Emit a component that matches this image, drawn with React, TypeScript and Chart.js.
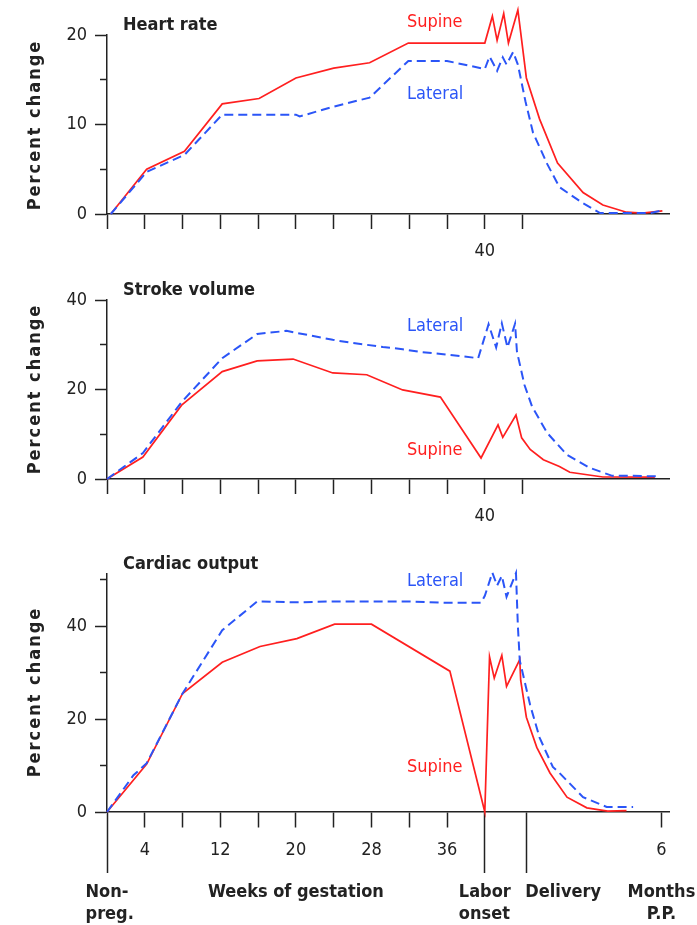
import React, { useEffect, useRef } from 'react';
import { Chart, registerables } from 'chart.js';

Chart.register(...registerables);

const FONT = '"DejaVu Sans Condensed", "DejaVu Sans", sans-serif';
const RED = '#ff1f1f';
const BLUE = '#2b55f7';
const AXIS = '#222222';
const TEXT = '#222222';

// x axis: weeks of gestation; 40 = labor onset, 44 = delivery, 58.7 = 6 months post partum
const X_MIN = 0;
const X_MAX = 59.5;
const gestTicks = [0, 4, 8, 12, 16, 20, 24, 28, 32, 36, 40, 44];
const bottomTicks = [0, 4, 8, 12, 16, 20, 24, 28, 32, 36, 40, 44.4, 58.7];
const topTickLabels: Record<string, string> = { '40': '40' };
const bottomTickLabels: Record<string, string> = { '4': '4', '12': '12', '20': '20', '28': '28', '36': '36', '58.7': '6' };
const longTicks = [0, 40, 44.4];

// Heart rate
const hrSupineX = [0.4, 4.2, 8.2, 12.2, 16.1, 20.0, 24.0, 27.8, 31.9, 40.0, 40.8, 41.3, 42.0, 42.5, 43.5, 44.4, 45.8, 47.7, 50.4, 52.5, 55.0, 56.7, 58.8];
const hrSupineY = [0, 5.0, 7.0, 12.3, 12.9, 15.2, 16.3, 16.9, 19.1, 19.1, 22.1, 19.4, 22.4, 19.1, 22.8, 15.2, 10.6, 5.7, 2.4, 1.0, 0.2, 0.1, 0.35];
const hrLateralX = [0.4, 4.2, 8.2, 12.2, 20.0, 20.4, 24.0, 27.8, 31.9, 36.0, 40.0, 40.5, 41.3, 41.9, 42.3, 43.0, 43.5, 44.3, 45.1, 46.6, 47.9, 50.4, 52.2, 57.5, 58.8];
const hrLateralY = [0, 4.7, 6.6, 11.1, 11.1, 10.9, 12.0, 13.0, 17.1, 17.1, 16.2, 17.6, 16.0, 17.5, 16.7, 18.1, 16.7, 12.6, 9.1, 5.6, 3.0, 1.2, 0.1, 0.1, 0.4];

// Stroke volume
const svSupineX = [0, 3.8, 7.9, 12.2, 15.9, 19.7, 23.9, 27.5, 31.3, 35.3, 39.6, 41.4, 41.9, 43.3, 43.9, 44.8, 46.2, 47.9, 49.0, 52.5, 58.0];
const svSupineY = [0, 4.9, 16.5, 24.0, 26.4, 26.8, 23.7, 23.3, 19.9, 18.3, 4.7, 12.1, 9.3, 14.3, 9.2, 6.6, 4.3, 2.8, 1.5, 0.45, 0.4];
const svLateralX = [0, 3.8, 7.9, 12.2, 15.9, 19.0, 23.9, 25.7, 29.2, 31.3, 33.1, 35.6, 39.3, 40.4, 41.2, 41.8, 42.4, 43.2, 43.4, 44.2, 45.0, 46.6, 48.7, 51.1, 53.5, 55.7, 58.2];
const svLateralY = [0, 5.8, 17.2, 27.0, 32.4, 33.1, 31.1, 30.5, 29.5, 29.0, 28.4, 27.9, 27.0, 34.6, 29.4, 34.8, 29.4, 34.7, 28.5, 21.0, 16.2, 10.3, 5.4, 2.5, 0.7, 0.7, 0.6];

// Cardiac output
const coSupineX = [0, 4.2, 8.0, 12.2, 16.2, 20.1, 24.1, 28.0, 36.3, 40.0, 40.5, 41.0, 41.8, 42.3, 43.7, 43.8, 44.4, 45.5, 46.9, 48.7, 50.8, 53.0, 55.0];
const coSupineY = [0, 10.3, 25.5, 32.2, 35.6, 37.3, 40.4, 40.4, 30.3, 0, 33.4, 28.8, 33.7, 27.0, 32.8, 28.3, 20.4, 13.9, 8.4, 3.2, 0.9, 0.2, 0.3];
const coLateralX = [0, 2.8, 4.2, 8.0, 12.2, 15.9, 20.0, 24.0, 28.0, 32.0, 36.0, 39.6, 40.0, 40.8, 41.3, 41.8, 42.3, 43.3, 43.5, 43.7, 44.8, 45.8, 47.2, 47.9, 50.4, 52.9, 55.7];
const coLateralY = [0, 7.9, 10.5, 25.5, 39.1, 45.3, 45.1, 45.3, 45.3, 45.3, 45.0, 45.0, 46.5, 51.5, 48.7, 50.8, 46.3, 51.4, 40.0, 32.6, 23.0, 16.0, 9.7, 8.4, 3.2, 1.1, 1.1];

type Spec = {
  top: number;
  height: number;
  areaTop: number;
  areaBottom: number;
  yMax: number;
  yMajor: number[];
  yMinor: number[];
  title: string;
  titleY: number;
  supineLabelY: number;
  lateralLabelY: number;
  yTitleCenter: number;
  sx: number[];
  sy: number[];
  lx: number[];
  ly: number[];
  bottom: boolean;
};

const panels: Spec[] = [
  {
    top: 0, height: 262, areaTop: 35, areaBottom: 214, yMax: 20, yMajor: [0, 10, 20], yMinor: [5, 15],
    title: 'Heart rate', titleY: 30, supineLabelY: 27, lateralLabelY: 99, yTitleCenter: 125,
    sx: hrSupineX, sy: hrSupineY, lx: hrLateralX, ly: hrLateralY, bottom: false,
  },
  {
    top: 262, height: 268, areaTop: 300, areaBottom: 479, yMax: 40, yMajor: [0, 20, 40], yMinor: [10, 30],
    title: 'Stroke volume', titleY: 295, supineLabelY: 455, lateralLabelY: 331, yTitleCenter: 389,
    sx: svSupineX, sy: svSupineY, lx: svLateralX, ly: svLateralY, bottom: false,
  },
  {
    top: 530, height: 395, areaTop: 574, areaBottom: 812, yMax: 51.2, yMajor: [0, 20, 40], yMinor: [10, 30, 50],
    title: 'Cardiac output', titleY: 569, supineLabelY: 772, lateralLabelY: 586, yTitleCenter: 692,
    sx: coSupineX, sy: coSupineY, lx: coLateralX, ly: coLateralY, bottom: true,
  },
];

function toPoints(xs: number[], ys: number[]) {
  return xs.map((x, i) => ({ x, y: ys[i] }));
}

function buildConfig(spec: Spec): any {
  const off = spec.top;
  const yTicks = [...spec.yMajor, ...spec.yMinor].sort((a, b) => a - b);
  const xTicks = spec.bottom ? bottomTicks : gestTicks;
  const xLabels = spec.bottom ? bottomTickLabels : topTickLabels;
  const xTickLen = spec.bottom ? 61 : 15;

  const textPlugin = {
    id: 'panelText',
    afterDraw(chart: any) {
      const ctx = chart.ctx;
      const xs = chart.scales.x;
      ctx.save();
      ctx.textAlign = 'left';
      ctx.textBaseline = 'alphabetic';
      ctx.font = `bold 18px ${FONT}`;
      ctx.fillStyle = TEXT;
      ctx.fillText(spec.title, 123, spec.titleY - off);
      ctx.font = `18px ${FONT}`;
      ctx.fillStyle = RED;
      ctx.fillText('Supine', 407, spec.supineLabelY - off);
      ctx.fillStyle = BLUE;
      ctx.fillText('Lateral', 407, spec.lateralLabelY - off);

      ctx.save();
      ctx.translate(40, spec.yTitleCenter - off);
      ctx.rotate(-Math.PI / 2);
      ctx.font = `bold 18px ${FONT}`;
      (ctx as any).letterSpacing = '2px';
      ctx.textAlign = 'center';
      ctx.fillStyle = TEXT;
      ctx.fillText('Percent change', 0, 0);
      ctx.restore();

      if (spec.bottom) {
        ctx.font = `bold 18px ${FONT}`;
        ctx.fillStyle = TEXT;
        const l1 = 897 - off;
        const l2 = 919 - off;
        const x0 = xs.getPixelForValue(0);
        const x40 = xs.getPixelForValue(40);
        const x44 = xs.getPixelForValue(44.4);
        const x6 = xs.getPixelForValue(58.7);
        const x20 = xs.getPixelForValue(20);
        const wNon = ctx.measureText('Non-').width;
        ctx.textAlign = 'left';
        ctx.fillText('Non-', x0 - wNon / 2, l1);
        ctx.fillText('preg.', x0 - wNon / 2, l2);
        ctx.textAlign = 'center';
        ctx.fillText('Weeks of gestation', x20, l1);
        const wLab = ctx.measureText('Labor').width;
        ctx.textAlign = 'left';
        ctx.fillText('Labor', x40 - wLab / 2, l1);
        ctx.fillText('onset', x40 - wLab / 2, l2);
        ctx.fillText('Delivery', x44 - 1, l1);
        ctx.textAlign = 'center';
        ctx.fillText('Months', x6, l1);
        ctx.fillText('P.P.', x6, l2);
      }
      ctx.restore();
    },
  };

  return {
    type: 'line',
    data: {
      datasets: [
        {
          label: 'Lateral',
          data: toPoints(spec.lx, spec.ly),
          borderColor: BLUE,
          borderWidth: 2,
          borderDash: [9, 5],
          pointRadius: 0,
          tension: 0,
          fill: false,
          clip: false,
        },
        {
          label: 'Supine',
          data: toPoints(spec.sx, spec.sy),
          borderColor: RED,
          borderWidth: 1.7,
          pointRadius: 0,
          tension: 0,
          fill: false,
          clip: false,
        },
      ],
    },
    options: {
      responsive: false,
      animation: false,
      devicePixelRatio: 1,
      events: [],
      layout: { padding: { left: 0, right: 28, top: spec.areaTop - off, bottom: 0 } },
      plugins: { legend: { display: false }, tooltip: { enabled: false }, title: { display: false } },
      scales: {
        x: {
          type: 'linear',
          min: X_MIN,
          max: X_MAX,
          afterBuildTicks: (scale: any) => {
            scale.ticks = xTicks.map((v) => ({ value: v }));
          },
          afterFit: (scale: any) => {
            scale.height = spec.height - (spec.areaBottom - off);
          },
          border: { display: true, color: AXIS, width: 1.5 },
          grid: {
            drawOnChartArea: false,
            drawTicks: true,
            tickLength: xTickLen,
            tickColor: AXIS,
            tickWidth: 1.5,
            tickBorderDash: (c: any) => (spec.bottom && !longTicks.includes(c.tick?.value) ? [15, 200] : []),
            tickBorderDashOffset: 0,
          },
          ticks: {
            autoSkip: false,
            maxRotation: 0,
            minRotation: 0,
            padding: spec.bottom ? -33 : 12,
            color: TEXT,
            font: { family: FONT, size: 18 },
            callback: (v: any) => xLabels[String(v)] ?? '',
          },
        },
        y: {
          type: 'linear',
          min: 0,
          max: spec.yMax,
          afterBuildTicks: (scale: any) => {
            scale.ticks = yTicks.map((v) => ({ value: v }));
          },
          afterFit: (scale: any) => {
            scale.width = 107;
          },
          border: { display: true, color: AXIS, width: 1.5 },
          grid: {
            drawOnChartArea: false,
            drawTicks: true,
            tickLength: 12,
            tickColor: AXIS,
            tickWidth: 1.5,
            tickBorderDash: (c: any) => (spec.yMinor.includes(c.tick?.value) ? [7, 5] : []),
            tickBorderDashOffset: (c: any) => (spec.yMinor.includes(c.tick?.value) ? 7 : 0),
          },
          ticks: {
            padding: 8,
            color: TEXT,
            font: { family: FONT, size: 18 },
            callback: (v: any) => (spec.yMajor.includes(v) ? String(v) : ''),
          },
        },
      },
    },
    plugins: [textPlugin],
  };
}

function Panel({ spec }: { spec: Spec }) {
  const ref = useRef<HTMLCanvasElement | null>(null);
  useEffect(() => {
    if (!ref.current) return;
    const chart = new Chart(ref.current, buildConfig(spec));
    return () => chart.destroy();
  }, [spec]);
  return (
    <canvas
      ref={ref}
      width={697}
      height={spec.height}
      style={{ position: 'absolute', left: 0, top: spec.top, width: 697, height: spec.height, display: 'block' }}
    />
  );
}

export default function App() {
  return (
    <div style={{ position: 'absolute', left: 0, top: 0, width: 697, height: 925, background: '#ffffff' }}>
      {panels.map((p) => (
        <Panel key={p.title} spec={p} />
      ))}
    </div>
  );
}
